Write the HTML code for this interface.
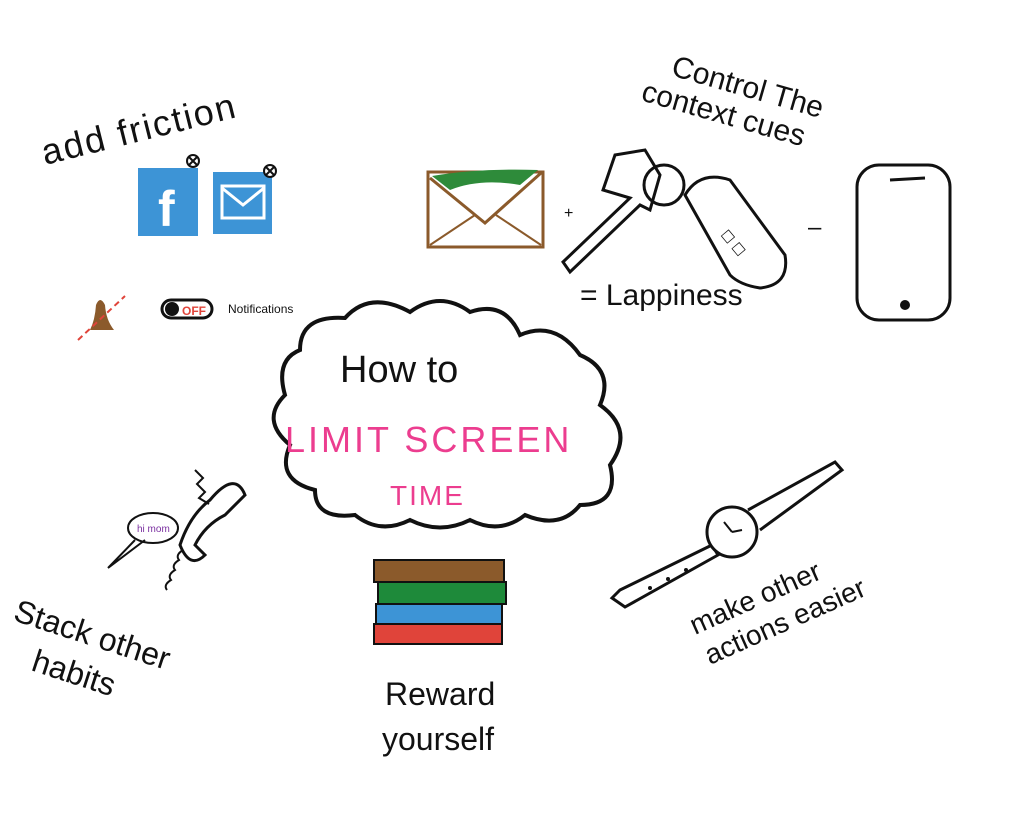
<!DOCTYPE html>
<html><head><meta charset="utf-8"><style>
html,body{margin:0;padding:0;background:#fff;width:1024px;height:837px;overflow:hidden}
svg{display:block}
text{font-family:"Liberation Sans",sans-serif}
</style></head><body>
<svg width="1024" height="837" viewBox="0 0 1024 837" xmlns="http://www.w3.org/2000/svg">
<text x="45" y="165" font-size="36" fill="#111" transform="rotate(-14 45 165)" letter-spacing="2">add friction</text>
<rect x="138" y="168" width="60" height="68" fill="#3d94d6"/>
<text x="158" y="226" font-size="50" fill="#fff" font-weight="bold">f</text>
<circle cx="193" cy="161" r="6" fill="#fff" stroke="#111" stroke-width="2"/>
<path d="M189 157l8 8M197 157l-8 8" stroke="#111" stroke-width="2"/>
<rect x="213" y="172" width="59" height="62" fill="#3d94d6"/>
<rect x="222" y="186" width="42" height="32" fill="none" stroke="#fff" stroke-width="3"/>
<path d="M222 188l21 17 21-17" fill="none" stroke="#fff" stroke-width="3"/>
<circle cx="270" cy="171" r="6" fill="#fff" stroke="#111" stroke-width="2"/>
<path d="M266 167l8 8M274 167l-8 8" stroke="#111" stroke-width="2"/>
<path d="M90 330 Q95 320 96 305 Q100 295 105 305 Q106 320 114 330 Z" fill="#8b5a2b"/>
<line x1="78" y1="340" x2="125" y2="296" stroke="#e0443a" stroke-width="2" stroke-dasharray="6 4"/>
<rect x="162" y="300" width="50" height="18" rx="9" fill="#fff" stroke="#111" stroke-width="3"/>
<circle cx="172" cy="309" r="7" fill="#111"/>
<text x="182" y="315" font-size="12" fill="#e0443a" font-weight="bold">OFF</text>
<text x="228" y="313" font-size="12" fill="#111">Notifications</text>
<path d="M300 350 Q300 315 345 318 Q370 290 410 312 Q440 290 470 312 Q505 300 520 335 Q555 320 580 355 Q615 370 600 405 Q635 430 610 465 Q620 505 580 505 Q560 530 525 515 Q500 535 470 520 Q440 535 410 520 Q380 535 355 515 Q315 520 315 490 Q275 480 290 445 Q260 420 285 395 Q275 360 300 350 Z" fill="#fff" stroke="#111" stroke-width="4"/>
<text x="340" y="382" font-size="38" fill="#111">How to</text>
<text x="285" y="452" font-size="36" fill="#ec3d8f" letter-spacing="3">LIMIT SCREEN</text>
<text x="390" y="505" font-size="28" fill="#ec3d8f" letter-spacing="2">TIME</text>
<rect x="428" y="172" width="115" height="75" fill="#fff" stroke="#8b5a2b" stroke-width="3"/>
<path d="M432 176 Q480 168 538 170 L520 185 Q480 178 450 190 Z" fill="#2e8b3a"/>
<path d="M430 178l55 45 56-50" fill="none" stroke="#8b5a2b" stroke-width="3"/>
<path d="M430 245l45-30M541 245l-45-30" fill="none" stroke="#8b5a2b" stroke-width="2"/>
<text x="564" y="218" font-size="16" fill="#111">+</text>
<path d="M603 190 L615 155 L645 150 L660 175 L650 210 L640 205 L570 272 L563 262 L630 198 Z" fill="none" stroke="#111" stroke-width="3"/>
<circle cx="664" cy="185" r="20" fill="none" stroke="#111" stroke-width="3"/>
<path d="M685 195 Q700 170 730 180 L785 255 Q790 285 760 288 Q740 285 730 275 Z" fill="none" stroke="#111" stroke-width="3"/>
<text x="720" y="235" font-size="14" fill="#111" transform="rotate(50 720 235)">☐ ☐</text>
<text x="808" y="235" font-size="24" fill="#111">–</text>
<rect x="857" y="165" width="93" height="155" rx="22" fill="#fff" stroke="#111" stroke-width="3"/>
<line x1="890" y1="180" x2="925" y2="178" stroke="#111" stroke-width="3"/>
<circle cx="905" cy="305" r="5" fill="#111"/>
<text x="670" y="75" font-size="30" fill="#111" transform="rotate(16 670 75)">Control The</text>
<text x="640" y="100" font-size="30" fill="#111" transform="rotate(16 640 100)">context cues</text>
<text x="580" y="305" font-size="30" fill="#111">= Lappiness</text>
<path d="M195 470 l8 8 l-6 6 l8 8 l-6 6 l10 6" fill="none" stroke="#111" stroke-width="2"/>
<path d="M210 500 Q235 470 245 495 L225 515 Q205 525 195 545 L205 555 Q190 570 180 545 Q190 515 210 500 Z" fill="none" stroke="#111" stroke-width="3"/>
<path d="M183 550 q-8 5 -4 10 q-8 5 -4 10 q-8 5 -4 10 q-8 5 -4 10" fill="none" stroke="#111" stroke-width="2"/>
<ellipse cx="153" cy="528" rx="25" ry="15" fill="none" stroke="#111" stroke-width="2"/>
<text x="137" y="532" font-size="10" fill="#7a2fa0">hi mom</text>
<path d="M135 540 L108 568 L145 540" fill="none" stroke="#111" stroke-width="2"/>
<text x="12" y="620" font-size="32" fill="#111" transform="rotate(18 12 620)">Stack other</text>
<text x="30" y="670" font-size="32" fill="#111" transform="rotate(18 30 670)">habits</text>
<rect x="374" y="560" width="130" height="22" fill="#8b5a2b" stroke="#111" stroke-width="2"/>
<rect x="378" y="582" width="128" height="22" fill="#1e8a3a" stroke="#111" stroke-width="2"/>
<rect x="376" y="604" width="126" height="20" fill="#3d94d6" stroke="#111" stroke-width="2"/>
<rect x="374" y="624" width="128" height="20" fill="#e0443a" stroke="#111" stroke-width="2"/>
<text x="385" y="705" font-size="32" fill="#111">Reward</text>
<text x="382" y="750" font-size="32" fill="#111">yourself</text>
<path d="M612 598 L620 590 L712 545 L718 555 L625 607 Z" fill="none" stroke="#111" stroke-width="3"/>
<path d="M748 510 L835 462 L842 470 L760 530" fill="none" stroke="#111" stroke-width="3"/>
<circle cx="732" cy="532" r="25" fill="#fff" stroke="#111" stroke-width="3"/>
<path d="M732 532 l-8 -10 M732 532 l10 -2" stroke="#111" stroke-width="2"/>
<circle cx="650" cy="588" r="2" fill="#111"/><circle cx="668" cy="579" r="2" fill="#111"/><circle cx="686" cy="570" r="2" fill="#111"/>
<text x="695" y="635" font-size="28" fill="#111" transform="rotate(-24 695 635)">make other</text>
<text x="710" y="665" font-size="28" fill="#111" transform="rotate(-24 710 665)">actions easier</text>
</svg>
</body></html>
